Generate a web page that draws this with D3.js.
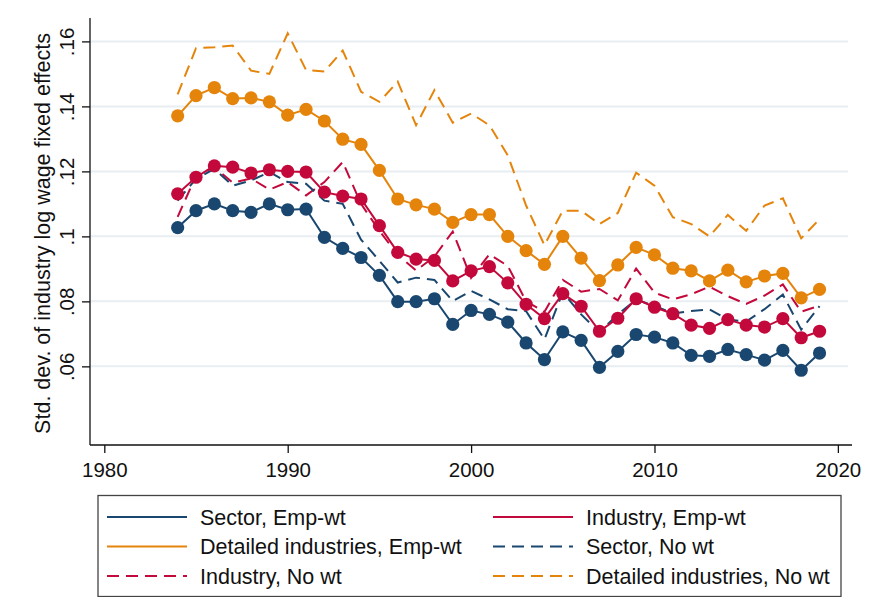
<!DOCTYPE html>
<html>
<head>
<meta charset="utf-8">
<script src="https://cdn.jsdelivr.net/npm/d3@7"></script>
<style>
  html, body { margin: 0; padding: 0; background: #fff; }
  svg { display: block; font-family: "Liberation Sans", Arial, sans-serif; }
</style>
</head>
<body>
<svg id="chart" width="869" height="597"></svg>
<script>
const years = d3.range(1984, 2020);

const sectorEmp = [0.1027, 0.1079, 0.1100, 0.1079, 0.1074, 0.1100, 0.1082, 0.1084, 0.0997, 0.0963,
  0.0935, 0.0880, 0.0799, 0.0799, 0.0808, 0.0729, 0.0772, 0.0760, 0.0736, 0.0672,
  0.0621, 0.0706, 0.0680, 0.0597, 0.0646, 0.0698, 0.0690, 0.0672, 0.0634, 0.0631,
  0.0652, 0.0636, 0.0619, 0.0649, 0.0588, 0.0641];

const industryEmp = [0.1131, 0.1182, 0.1217, 0.1213, 0.1195, 0.1205, 0.1200, 0.1198, 0.1136, 0.1124,
  0.1115, 0.1033, 0.0951, 0.0930, 0.0926, 0.0863, 0.0894, 0.0907, 0.0857, 0.0791,
  0.0747, 0.0824, 0.0785, 0.0708, 0.0748, 0.0808, 0.0782, 0.0762, 0.0727, 0.0717,
  0.0744, 0.0727, 0.0721, 0.0747, 0.0688, 0.0708];

const detailedEmp = [0.1371, 0.1433, 0.1458, 0.1424, 0.1426, 0.1414, 0.1373, 0.1391, 0.1355, 0.1299,
  0.1283, 0.1203, 0.1115, 0.1097, 0.1084, 0.1043, 0.1067, 0.1067, 0.1000, 0.0956,
  0.0914, 0.1000, 0.0933, 0.0864, 0.0912, 0.0966, 0.0943, 0.0902, 0.0894, 0.0863,
  0.0896, 0.0860, 0.0878, 0.0886, 0.0811, 0.0837];

const sectorNo = [0.1110, 0.1177, 0.1208, 0.1156, 0.1172, 0.1198, 0.1167, 0.1162, 0.1110, 0.1100,
  0.0990, 0.0925, 0.0858, 0.0873, 0.0866, 0.0801, 0.0832, 0.0806, 0.0776, 0.0770,
  0.0683, 0.0828, 0.0760, 0.0705, 0.0760, 0.0805, 0.0786, 0.0763, 0.0770, 0.0775,
  0.0744, 0.0738, 0.0776, 0.0821, 0.0713, 0.0785];

const industryNo = [0.1060, 0.1187, 0.1213, 0.1165, 0.1178, 0.1144, 0.1167, 0.1126, 0.1167, 0.1229,
  0.1100, 0.1017, 0.0943, 0.0895, 0.0938, 0.1015, 0.0872, 0.0945, 0.0909, 0.0800,
  0.0768, 0.0866, 0.0830, 0.0838, 0.0803, 0.0901, 0.0827, 0.0806, 0.0822, 0.0845,
  0.0816, 0.0792, 0.0818, 0.0852, 0.0768, 0.0787];

const detailedNo = [0.1437, 0.1579, 0.1582, 0.1587, 0.1510, 0.1500, 0.1625, 0.1512, 0.1507, 0.1572,
  0.1445, 0.1414, 0.1476, 0.1342, 0.1450, 0.1350, 0.1378, 0.1342, 0.1249, 0.1095,
  0.0973, 0.1079, 0.1079, 0.1038, 0.1072, 0.1196, 0.1156, 0.1059, 0.1038, 0.1000,
  0.1066, 0.1017, 0.1095, 0.1117, 0.0994, 0.1053];

const xTicks = [1980, 1990, 2000, 2010, 2020];
const yTicks = [0.06, 0.08, 0.1, 0.12, 0.14, 0.16];
const yTickLabels = ['.06', '.08', '.1', '.12', '.14', '.16'];

const seriesNames = ['Sector, Emp-wt', 'Industry, Emp-wt', 'Detailed industries, Emp-wt',
  'Sector, No wt', 'Industry, No wt', 'Detailed industries, No wt'];

const BLUE = '#1a476f';
const RED = '#c3093b';
const ORANGE = '#e5840a';

const series = [
  { name: seriesNames[0], values: sectorEmp, colour: BLUE, dashed: false },
  { name: seriesNames[1], values: industryEmp, colour: RED, dashed: false },
  { name: seriesNames[2], values: detailedEmp, colour: ORANGE, dashed: false },
  { name: seriesNames[3], values: sectorNo, colour: BLUE, dashed: true },
  { name: seriesNames[4], values: industryNo, colour: RED, dashed: true },
  { name: seriesNames[5], values: detailedNo, colour: ORANGE, dashed: true }
];

const svg = d3.select('#chart');

const plot = { left: 90, right: 852, top: 18, bottom: 445 };

// Scales
const scaleX = d3.scaleLinear()
  .domain([1979.22, 2020.77])
  .range([plot.left, plot.right]);

const scaleY = d3.scaleLinear()
  .domain([0.0358, 0.1672])
  .range([plot.bottom, plot.top]);

// Grid lines
svg.append('g')
  .selectAll('line')
  .data(yTicks)
  .join('line')
  .attr('x1', plot.left)
  .attr('x2', plot.right - 4)
  .attr('y1', d => scaleY(d))
  .attr('y2', d => scaleY(d))
  .style('stroke', '#e8eef2')
  .style('stroke-width', 2);

// Axes
const xAxis = svg.append('g')
  .attr('transform', `translate(0,${plot.bottom})`)
  .call(d3.axisBottom(scaleX).tickValues(xTicks).tickFormat(d3.format('d')).tickSizeOuter(0).tickSize(8).tickPadding(6));

const yAxis = svg.append('g')
  .attr('transform', `translate(${plot.left},0)`)
  .call(d3.axisLeft(scaleY).tickValues(yTicks).tickFormat((d, i) => yTickLabels[i]).tickSizeOuter(0).tickSize(8));

[xAxis, yAxis].forEach(a => {
  a.select('.domain').style('stroke', '#111').style('stroke-width', 1.3);
  a.selectAll('.tick line').style('stroke', '#111').style('stroke-width', 1.3);
  a.selectAll('text').style('font-family', '"Liberation Sans", Arial, sans-serif')
    .style('font-size', '20.5px').style('fill', '#111');
});

yAxis.select('.domain').attr('d', `M0,${plot.bottom}V${plot.top}`);
xAxis.select('.domain').attr('d', `M${plot.left},0H${plot.right}`);

yAxis.selectAll('.tick text')
  .attr('x', null).attr('dy', null)
  .attr('transform', 'translate(-16,0) rotate(-90)')
  .style('text-anchor', 'middle');

xAxis.selectAll('.tick text').attr('dy', '0.9em');

// Y title
svg.append('text')
  .attr('transform', `translate(50,${(plot.top + plot.bottom) / 2 + 2}) rotate(-90)`)
  .style('text-anchor', 'middle')
  .style('font-size', '21.5px')
  .style('fill', '#111')
  .text('Std. dev. of industry log wage fixed effects');

// Lines
const line = d3.line()
  .x((_d, i) => scaleX(years[i]))
  .y(d => scaleY(d));

const drawOrder = [5, 4, 3, 2, 1, 0];
drawOrder.forEach(k => {
  const s = series[k];
  svg.append('path')
    .datum(s.values)
    .attr('d', line)
    .style('fill', 'none')
    .style('stroke', s.colour)
    .style('stroke-width', 2)
    .style('stroke-dasharray', s.dashed ? '12,7' : null);
  if (!s.dashed) {
    svg.append('g')
      .selectAll('circle')
      .data(s.values)
      .join('circle')
      .attr('cx', (_d, i) => scaleX(years[i]))
      .attr('cy', d => scaleY(d))
      .attr('r', 6.6)
      .style('fill', s.colour);
  }
});

// Legend
const legend = svg.append('g');
legend.append('rect')
  .attr('x', 98).attr('y', 495.5)
  .attr('width', 743).attr('height', 101)
  .style('fill', '#fff')
  .style('stroke', '#444')
  .style('stroke-width', 1.3);

series.forEach((s, i) => {
  const col = i % 2;
  const row = Math.floor(i / 2);
  const x0 = col === 0 ? 107 : 493;
  const y0 = 517 + row * 29.5;
  legend.append('line')
    .attr('x1', x0).attr('x2', x0 + 80)
    .attr('y1', y0).attr('y2', y0)
    .style('stroke', s.colour)
    .style('stroke-width', 2)
    .style('stroke-dasharray', s.dashed ? '12,7' : null);
  legend.append('text')
    .attr('x', x0 + 93)
    .attr('y', y0)
    .attr('dy', '0.35em')
    .style('font-size', '21.5px')
    .style('fill', '#111')
    .text(s.name);
});
</script>
</body>
</html>
